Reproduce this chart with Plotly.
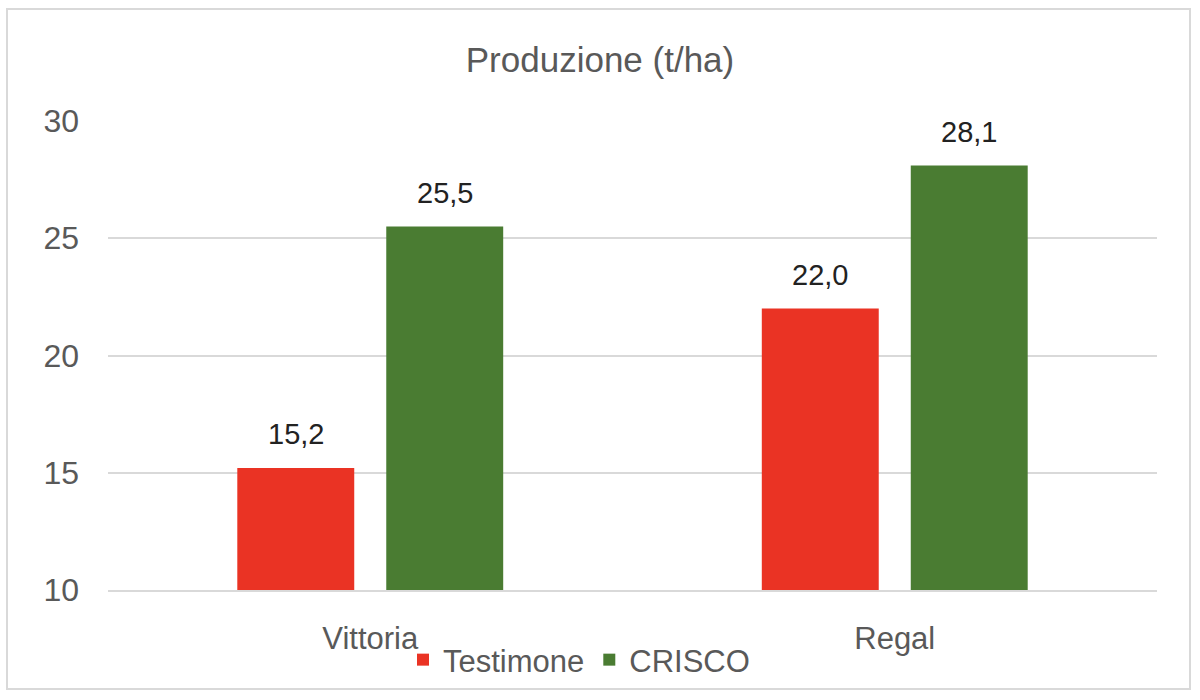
import plotly.graph_objects as go

# ----------------------------------------------------------------------
# Data
# ----------------------------------------------------------------------
varieties = ["Vittoria", "Regal"]
testimone = [15.2, 22.0]
crisco = [25.5, 28.1]
series_names = ["Testimone", "CRISCO"]
series_colors = ["#EA3324", "#4A7C32"]
y_ticks = [10, 15, 20, 25, 30]

FONT = "Liberation Sans, Arial, sans-serif"
W, H = 1200, 700
L, R, T, B = 108, 43, 121, 110

fig = go.Figure()
for name, vals, col in zip(series_names, [testimone, crisco], series_colors):
    fig.add_trace(go.Bar(name=name, x=varieties, y=vals, marker_color=col,
                         marker_line_width=0, hoverinfo="x+y"))

# data labels above each bar
shift = [-74.5, 74.5]
for k, vals in enumerate([testimone, crisco]):
    for cat, v in zip(varieties, vals):
        fig.add_annotation(x=cat, y=v, text=f"{v:.1f}".replace(".", ","),
                           showarrow=False, xshift=shift[k], yshift=16, yanchor="bottom",
                           font=dict(family=FONT, size=29, color="#222222"))

# chart border
pw, ph = W - L - R, H - T - B
fig.add_shape(type="rect", xref="paper", yref="paper",
              x0=(7 - L) / pw, x1=(1190 - L) / pw,
              y0=(H - B - 689) / ph, y1=(H - B - 9) / ph,
              line=dict(color="#D9D9D9", width=2), fillcolor="rgba(0,0,0,0)", layer="below")

fig.update_layout(
    width=W, height=H,
    margin=dict(l=L, r=R, t=T, b=B),
    paper_bgcolor="white", plot_bgcolor="white",
    separators=",.",
    barmode="group", bargap=0.432, bargroupgap=0.215,
    title=dict(text="Produzione (t/ha)", x=0.5, xanchor="center", y=1 - 60 / H, yanchor="middle",
               font=dict(family=FONT, size=35, color="#595959")),
    font=dict(family=FONT, size=31, color="#595959"),
    showlegend=True,
    legend=dict(orientation="h", x=(579 - L) / pw, xanchor="center",
                y=-(660 - (H - B)) / ph, yanchor="middle",
                bgcolor="rgba(0,0,0,0)",
                font=dict(family=FONT, size=31, color="#595959"),
                itemwidth=30, traceorder="normal"),
)
fig.update_yaxes(range=[10, 30], tickvals=y_ticks, showgrid=True, gridcolor="#D9D9D9", gridwidth=1.5,
                 zeroline=False, showline=False, ticks="", ticklabelstandoff=28,
                 tickfont=dict(family=FONT, size=32, color="#595959"))
fig.update_xaxes(showline=True, linecolor="#D9D9D9", linewidth=1.5, ticks="", ticklabelstandoff=20,
                 tickfont=dict(family=FONT, size=31, color="#595959"))

fig.write_html("out.html", config={"displayModeBar": False},
               post_script="document.body.style.margin='0';")
